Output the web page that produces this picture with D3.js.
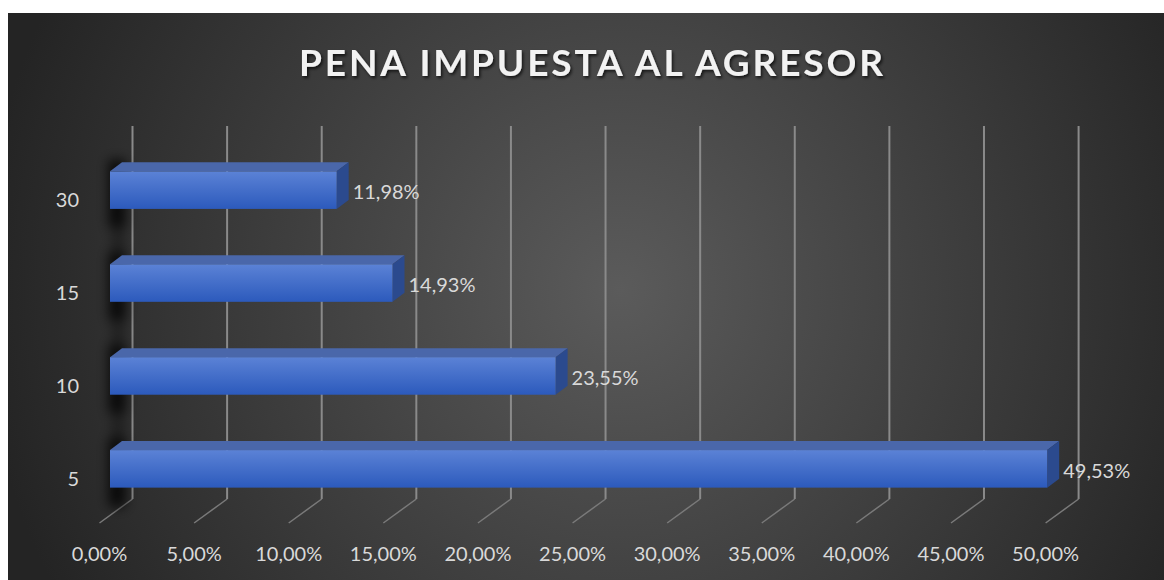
<!DOCTYPE html>
<html>
<head>
<meta charset="utf-8">
<script src="https://cdn.jsdelivr.net/npm/d3@7"></script>
<style>
  html, body { margin: 0; padding: 0; background: #fff; }
  svg { display: block; }
</style>
</head>
<body>
<svg id="chart" width="1164" height="580"></svg>
<script>
// data
var categories = ["30", "15", "10", "5"];
var values = [11.98, 14.93, 23.55, 49.53];
var tickValues = [0, 5, 10, 15, 20, 25, 30, 35, 40, 45, 50];
var title = "PENA IMPUESTA AL AGRESOR";

var W = 1164, H = 580;
var svg = d3.select("#chart");
var defs = svg.append("defs");

// background gradient
var bg = defs.append("radialGradient").attr("id", "bg")
    .attr("gradientUnits", "userSpaceOnUse")
    .attr("cx", 620).attr("cy", 290).attr("r", 640);
bg.append("stop").attr("offset", "0%").attr("stop-color", "#5b5b5b");
bg.append("stop").attr("offset", "100%").attr("stop-color", "#242424");

var front = defs.append("linearGradient").attr("id", "front")
    .attr("x1", 0).attr("y1", 0).attr("x2", 0).attr("y2", 1);
front.append("stop").attr("offset", "0%").attr("stop-color", "#5b82d6");
front.append("stop").attr("offset", "100%").attr("stop-color", "#2c5abc");

var blur = defs.append("filter").attr("id", "blur")
    .attr("x", "-150%").attr("y", "-50%").attr("width", "400%").attr("height", "200%");
blur.append("feGaussianBlur").attr("stdDeviation", 6);

var tshadow = defs.append("filter").attr("id", "tshadow");
tshadow.append("feDropShadow").attr("dx", 1.5).attr("dy", 2).attr("stdDeviation", 1.5)
    .attr("flood-color", "#000").attr("flood-opacity", 0.7);

// chart area (white strip left at top / left)
svg.append("rect").attr("x", 8).attr("y", 13).attr("width", W - 8).attr("height", H - 13)
    .attr("fill", "url(#bg)");

// 3d offsets
var wallDx = 22.5;          // back wall vs bar front
var floorDx = -33, floorDy = 24;
var depthDx = 12, depthDy = -9;
var wallTop = 126, wallBottom = 499;

var x = d3.scaleLinear().domain([0, 50]).range([110, 1056.1]);
var y = d3.scaleBand().domain(categories).range([116, 543]).padding(0.596);

var fmt = function(v) { return d3.format(".2f")(v).replace(".", ",") + "%"; };

// gridlines on back wall + floor
var grid = svg.append("g").attr("stroke", "#8a8a8a").attr("fill", "none");
tickValues.forEach(function(t) {
    var bx = x(t) + wallDx;
    grid.append("line").attr("x1", bx).attr("x2", bx).attr("y1", wallTop).attr("y2", wallBottom)
        .attr("stroke-width", 2);
    grid.append("line").attr("x1", bx).attr("y1", wallBottom)
        .attr("x2", bx + floorDx).attr("y2", wallBottom + floorDy)
        .attr("stroke-width", 1.5).attr("stroke", "#7a7a7a");
});

// x tick labels
svg.append("g").selectAll("text").data(tickValues).join("text")
    .attr("x", function(d) { return x(d) + wallDx + floorDx; })
    .attr("y", 561)
    .attr("text-anchor", "middle")
    .attr("font-family", "Lato, sans-serif")
    .attr("font-size", 20)
    .attr("fill", "#d9d9d9")
    .text(fmt);

// soft shadow on the side wall
var sh = svg.append("g").attr("filter", "url(#blur)").attr("fill", "#000");
sh.append("rect").attr("x", 112).attr("width", 12)
    .attr("y", y(categories[0]) - 10)
    .attr("height", y(categories[3]) + y.bandwidth() + 22 - (y(categories[0]) - 10))
    .attr("opacity", 0.35);
sh.selectAll("rect.b").data(categories).join("rect").attr("class", "b")
    .attr("x", 108).attr("width", 18)
    .attr("y", function(d) { return y(d) - 12; })
    .attr("height", y.bandwidth() + 30)
    .attr("opacity", 0.7);

// bars
var bars = svg.append("g").selectAll("g").data(values).join("g");

bars.append("path") // top face
    .attr("fill", "#4a67aa")
    .attr("d", function(d, i) {
        var x0 = x(0), x1 = x(d), y0 = y(categories[i]);
        return "M" + x0 + "," + y0 + "L" + (x0 + depthDx) + "," + (y0 + depthDy) +
            "L" + (x1 + depthDx) + "," + (y0 + depthDy) + "L" + x1 + "," + y0 + "Z";
    });

bars.append("path") // side face
    .attr("fill", "#2b4a8e")
    .attr("d", function(d, i) {
        var x1 = x(d), y0 = y(categories[i]), y1 = y0 + y.bandwidth();
        return "M" + x1 + "," + y0 + "L" + (x1 + depthDx) + "," + (y0 + depthDy) +
            "L" + (x1 + depthDx) + "," + (y1 + depthDy) + "L" + x1 + "," + y1 + "Z";
    });

bars.append("rect") // front face
    .attr("x", x(0))
    .attr("y", function(d, i) { return y(categories[i]); })
    .attr("width", function(d) { return x(d) - x(0); })
    .attr("height", y.bandwidth())
    .attr("fill", "url(#front)");

// value labels
bars.append("text")
    .attr("x", function(d) { return x(d) + depthDx + 4; })
    .attr("y", function(d, i) { return y(categories[i]) + y.bandwidth() / 2 + 9; })
    .attr("font-family", "Lato, sans-serif")
    .attr("font-size", 20)
    .attr("fill", "#d9d9d9")
    .text(fmt);

// category labels
svg.append("g").selectAll("text").data(categories).join("text")
    .attr("x", 79)
    .attr("y", function(d) { return y(d) + y.bandwidth() / 2 + 17; })
    .attr("text-anchor", "end")
    .attr("font-family", "Lato, sans-serif")
    .attr("font-size", 20)
    .attr("fill", "#d9d9d9")
    .text(function(d) { return d; });

// title
svg.append("text")
    .attr("x", 591).attr("y", 76)
    .attr("text-anchor", "middle")
    .attr("font-family", "Lato, sans-serif")
    .attr("font-weight", "bold")
    .attr("font-size", 37)
    .attr("textLength", 584)
    .attr("lengthAdjust", "spacing")
    .attr("fill", "#f2f2f2")
    .attr("filter", "url(#tshadow)")
    .text(title);
</script>
</body>
</html>
